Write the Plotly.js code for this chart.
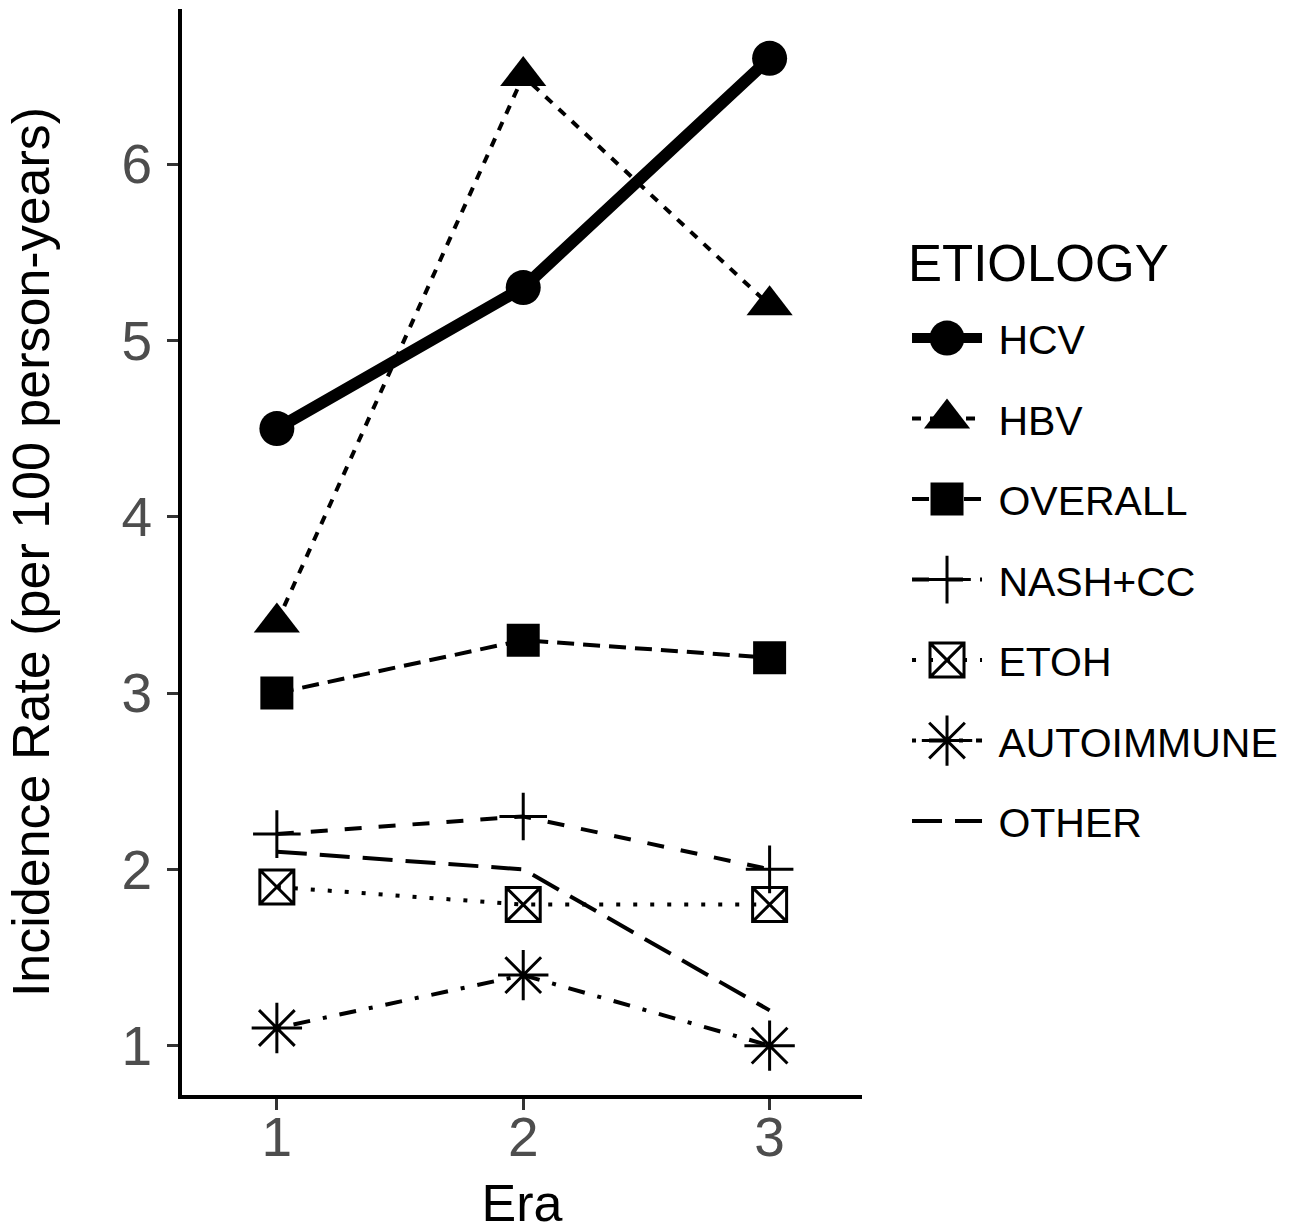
<!DOCTYPE html>
<html>
<head>
<meta charset="utf-8">
<script src="https://cdn.plot.ly/plotly-3.0.1.min.js"></script>
<style>
  html, body { margin: 0; padding: 0; background: #ffffff; }
  #chart { width: 1295px; height: 1232px; }
</style>
</head>
<body>
<div id="chart"></div>
<script>
// ---- data ----
const era = [1, 2, 3];
const hcv = [4.5, 5.3, 6.6];
const hbv = [3.4, 6.5, 5.2];
const overall = [3.0, 3.3, 3.2];
const nashcc = [2.2, 2.3, 2.0];
const etoh = [1.9, 1.8, 1.8];
const autoimmune = [1.1, 1.4, 1.0];
const other = [2.1, 2.0, 1.2];
const seriesNames = ['HCV', 'HBV', 'OVERALL', 'NASH+CC', 'ETOH', 'AUTOIMMUNE', 'OTHER'];
const seriesValues = [hcv, hbv, overall, nashcc, etoh, autoimmune, other];
const xTickVals = [1, 2, 3];
const yTickVals = [1, 2, 3, 4, 5, 6];
const xTitle = 'Era';
const yTitle = 'Incidence Rate (per 100 person-years)';
const legendTitle = 'ETIOLOGY';

// ---- styles ----
const styles = [
  {symbol: 'circle',          size: 35, lw: 12, dash: 'solid',              mlw: 0},
  {symbol: 'triangle-up',     size: 40, lw: 4,  dash: '9px,9px',            mlw: 0},
  {symbol: 'square',          size: 33, lw: 4,  dash: '17px,9px',           mlw: 0},
  {symbol: 'cross-thin-open', size: 34, lw: 4,  dash: '17px,17px',          mlw: 3},
  {symbol: 'square-x-open',   size: 34, lw: 4,  dash: '4px,13px',           mlw: 3},
  {symbol: 'asterisk-open',   size: 42, lw: 4,  dash: '4px,13px,17px,13px', mlw: 3},
  {symbol: null,              size: 0,  lw: 4,  dash: '30px,13px',          mlw: 0}
];

const FONT = '"Liberation Sans", Arial, Helvetica, sans-serif';

const traces = seriesNames.map((name, i) => {
  const st = styles[i];
  const t = {
    x: era,
    y: seriesValues[i],
    name: '\u00a0' + name,
    legendgroup: 'g' + i,
    type: 'scatter',
    mode: st.symbol ? 'lines+markers' : 'lines',
    line: {color: '#000000', width: st.lw, dash: st.dash},
    hoverinfo: 'x+y+name'
  };
  if (st.symbol) {
    t.marker = {
      symbol: st.symbol, size: st.size, color: '#000000',
      line: {color: '#000000', width: st.mlw}
    };
  }
  return t;
});

const axisCommon = {
  showline: true, linecolor: '#000000', linewidth: 4, mirror: false,
  showgrid: false, zeroline: false,
  ticks: 'outside', ticklen: 11, tickwidth: 3, tickcolor: '#333333',
  tickfont: {family: FONT, size: 55, color: '#4d4d4d'}
};

const layout = {
  width: 1295, height: 1232,
  paper_bgcolor: '#ffffff', plot_bgcolor: '#ffffff',
  margin: {l: 182, r: 433, t: 9, b: 137, pad: 0},
  font: {family: FONT, color: '#000000'},
  showlegend: true,
  xaxis: Object.assign({}, axisCommon, {
    range: [0.615, 3.375], tickmode: 'array', tickvals: xTickVals,
    ticktext: xTickVals.map(String),
    ticklabelstandoff: -20,
    title: {text: xTitle, font: {family: FONT, size: 52, color: '#000000'}, standoff: 28}
  }),
  yaxis: Object.assign({}, axisCommon, {
    range: [0.72, 6.88], tickmode: 'array', tickvals: yTickVals,
    ticktext: yTickVals.map(String),
    ticklabelstandoff: 4,
    title: {text: yTitle, font: {family: FONT, size: 52, color: '#000000'}, standoff: 56}
  }),
  legend: {
    x: 1.0662, xanchor: 'left', y: 0.7275, yanchor: 'top',
    font: {family: FONT, size: 41, color: '#000000'},
    tracegroupgap: 24.2,
    itemwidth: 70,
    bgcolor: 'rgba(0,0,0,0)'
  },
  annotations: [{
    text: legendTitle, xref: 'paper', yref: 'paper',
    x: 1.065, xanchor: 'left', y: 0.766, yanchor: 'middle',
    showarrow: false, font: {family: FONT, size: 51, color: '#000000'}
  }]
};

Plotly.newPlot('chart', traces, layout, {displayModeBar: false, staticPlot: true}).then(gd => {
  // enlarge legend markers to the size used in the plot (library clamps them to 16px)
  const items = gd.querySelectorAll('.legend .traces');
  items.forEach((g, i) => {
    const st = styles[i];
    if (!st || !st.symbol) return;
    const k = st.size / 16;
    g.querySelectorAll('.legendpoints path.scatterpts').forEach(p => {
      const tr = p.getAttribute('transform') || '';
      p.setAttribute('transform', tr + ' scale(' + k + ')');
      p.setAttribute('vector-effect', 'non-scaling-stroke');
    });
  });
});
</script>
</body>
</html>
